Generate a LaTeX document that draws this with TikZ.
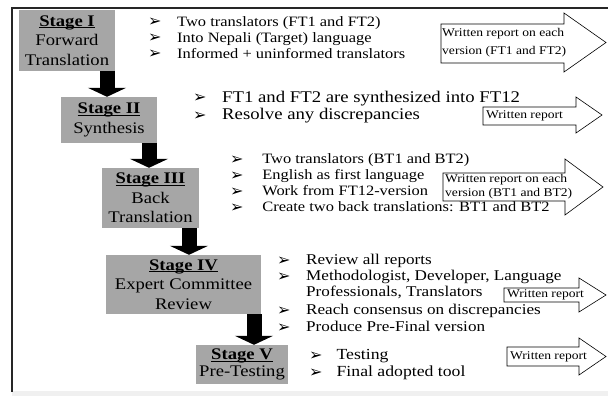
\documentclass[tikz,border=0pt]{standalone}
\usepackage{fontspec}
\setmainfont{Liberation Serif}[FakeStretch=1.15]
\newfontfamily\dingfont{DejaVu Sans}
\usetikzlibrary{arrows.meta}
\newcommand{\bul}[1][29pt]{\makebox[#1][l]{\raisebox{-0.5pt}{\dingfont\fontsize{16}{16}\selectfont ➢}}}
\newsavebox{\stgbox}
\newcommand{\stg}[1]{\sbox{\stgbox}{\textbf{#1}}\usebox{\stgbox}\llap{\rule[-1.8pt]{\wd\stgbox}{0.8pt}}}

\begin{document}
\begin{tikzpicture}[x=1pt,y=-1pt,
  stage/.style={fill=black!35,inner sep=0pt,align=center,font=\fontsize{16.2}{19.5}\selectfont},
  bitem/.style={anchor=west,inner sep=0pt,text height=10pt,text depth=3pt,font=\fontsize{14.3}{16}\selectfont},
  rnote/.style={anchor=west,inner sep=0pt,align=left,font=\fontsize{11.8}{14}\selectfont},
  report/.style={draw=black,fill=white,line width=0.6pt,line join=miter},
  darrow/.style={line width=15pt,-{Triangle[length=9pt,width=38pt]}}]
\useasboundingbox (0,0) rectangle (608,396);
% frame
\fill[black!6] (12,391) rectangle (608,396);
\draw[line width=1.2pt,black!85] (12,392) -- (12,8) -- (608,8);
% stages
\node[stage,minimum width=96pt,minimum height=61pt] (s1) at (67,40.5) {\stg{Stage I}\\Forward\\Translation};
\node[stage,minimum width=96pt,minimum height=46pt] (s2) at (109,120) {\stg{Stage II}\\Synthesis};
\node[stage,minimum width=97pt,minimum height=60pt] (s3) at (150.5,198) {\stg{Stage III}\\Back\\Translation};
\node[stage,minimum width=155pt,minimum height=59pt] (s4) at (183.5,284.5) {\stg{Stage IV}\\Expert Committee\\Review};
\node[stage,minimum width=92pt,minimum height=39pt,font=\fontsize{16.2}{17}\selectfont] (s5) at (242,364.5) {\stg{Stage V}\\Pre-Testing};
\draw[darrow] ([xshift=40pt]s1.south) -- ([xshift=-2pt]s2.north);
\draw[darrow] ([xshift=40pt]s2.south) -- ([xshift=-1.5pt]s3.north);
\draw[darrow] ([xshift=38.5pt]s3.south) -- ([xshift=5.5pt]s4.north);
\draw[darrow] ([xshift=70.5pt]s4.south) -- ([xshift=12pt]s5.north);
% stage I
\node[bitem] (i1a) at (148,23) {\bul Two translators (FT1 and FT2)};
\node[bitem] (i1b) at (148,39) {\bul Into Nepali (Target) language};
\node[bitem] (i1c) at (148,55) {\bul Informed + uninformed translators};
% stage II
\node[bitem,font=\fontsize{16.3}{18}\selectfont] (i2a) at (193,99) {\bul FT1 and FT2 are synthesized into FT12};
\node[bitem,font=\fontsize{16.3}{18}\selectfont] (i2b) at (193,116) {\bul Resolve any discrepancies};
% stage III
\node[bitem] (i3a) at (230,160) {\bul[28pt] Two translators (BT1 and BT2)};
\node[bitem] (i3b) at (230,176) {\bul[28pt] English as first language};
\node[bitem] (i3c) at (230,192) {\bul[28pt] Work from FT12-version};
\node[bitem] (i3d) at (230,208) {\bul[28pt] Create two back translations: BT1 and BT2};
% stage IV
\node[bitem,font=\fontsize{14.9}{16}\selectfont] (i4a) at (277,261) {\bul Review all reports};
\node[bitem,font=\fontsize{14.9}{16}\selectfont] (i4b) at (277,277) {\bul Methodologist, Developer, Language};
\node[bitem,font=\fontsize{14.9}{16}\selectfont] (i4c) at (306,293) {Professionals, Translators};
\node[bitem,font=\fontsize{14.9}{16}\selectfont] (i4d) at (277,311) {\bul Reach consensus on discrepancies};
\node[bitem,font=\fontsize{14.9}{16}\selectfont] (i4e) at (277,328) {\bul Produce Pre-Final version};
% stage V
\node[bitem,font=\fontsize{15.4}{16}\selectfont] (i5a) at (309,356) {\bul[23pt] Testing};
\node[bitem,font=\fontsize{15.4}{16}\selectfont] (i5b) at (309,373) {\bul[23pt] Final adopted tool};
% written reports
\draw[report] (441,24) -- (564,24) -- (564,13) -- (606,42.5) -- (564,72) -- (564,63) -- (441,63) -- cycle;
\node[rnote,font=\fontsize{11.8}{18}\selectfont] (r1) at (442,42.5) {Written report on each\\version (FT1 and FT2)};
\draw[report] (483,107) -- (576,107) -- (576,97) -- (602,115) -- (576,133) -- (576,125) -- (483,125) -- cycle;
\node[rnote] (r2) at (486,116) {Written report};
\draw[report] (443,173) -- (565,173) -- (565,159) -- (603,187) -- (565,215) -- (565,201) -- (443,201) -- cycle;
\node[rnote] (r3) at (445,187) {Written report on each\\version (BT1 and BT2)};
\draw[report] (504,288) -- (579,288) -- (579,278) -- (606,295) -- (579,312) -- (579,302) -- (504,302) -- cycle;
\node[rnote] (r4) at (507,295) {Written report};
\draw[report] (507,347) -- (579,347) -- (579,338) -- (606,356.5) -- (579,375) -- (579,366) -- (507,366) -- cycle;
\node[rnote] (r5) at (510,356.5) {Written report};
\end{tikzpicture}
\end{document}
